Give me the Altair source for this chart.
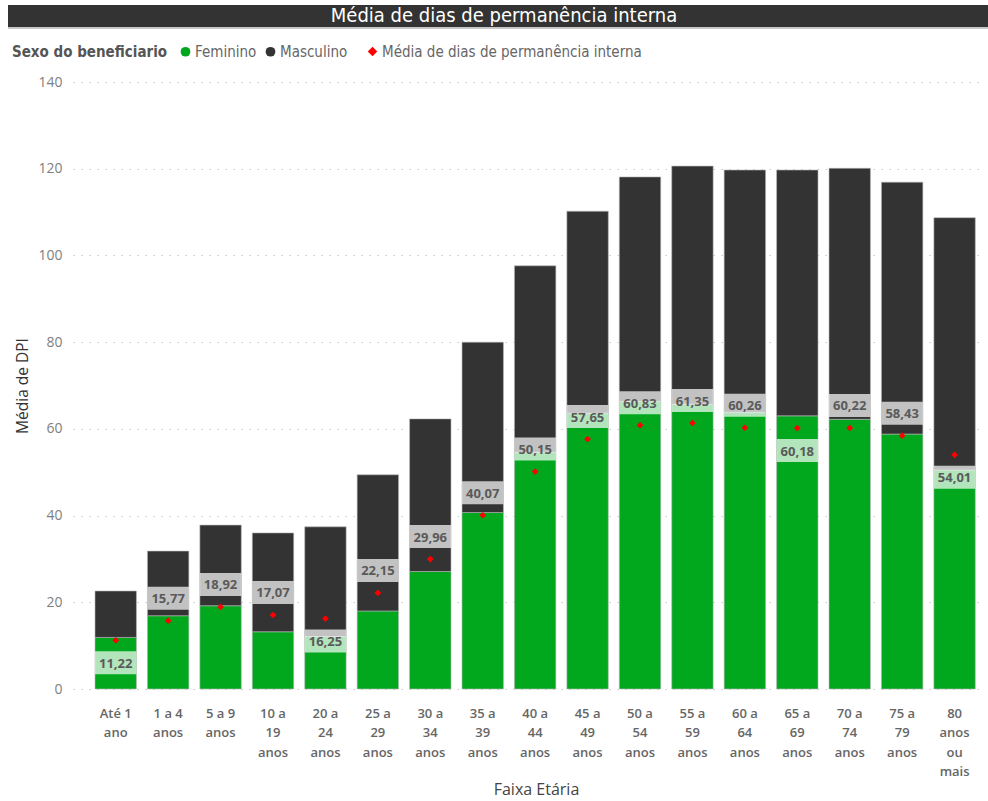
import altair as alt
import pandas as pd

# ---------------- data ----------------
faixas = ["Até 1|ano", "1 a 4|anos", "5 a 9|anos", "10 a|19|anos", "20 a|24|anos",
          "25 a|29|anos", "30 a|34|anos", "35 a|39|anos", "40 a|44|anos", "45 a|49|anos",
          "50 a|54|anos", "55 a|59|anos", "60 a|64|anos", "65 a|69|anos", "70 a|74|anos",
          "75 a|79|anos", "80|anos|ou|mais"]
feminino = [11.9, 16.9, 19.2, 13.2, 12.1, 18.0, 27.1, 40.7, 54.6, 63.6,
            66.3, 65.7, 63.8, 63.0, 62.2, 58.8, 50.5]
masculino = [10.7, 14.9, 18.6, 22.8, 25.3, 31.4, 35.2, 39.3, 43.0, 46.6,
             51.8, 54.9, 55.9, 56.7, 57.9, 58.1, 58.2]
media = [11.22, 15.77, 18.92, 17.07, 16.25, 22.15, 29.96, 40.07, 50.15, 57.65,
         60.83, 61.35, 60.26, 60.18, 60.22, 58.43, 54.01]
posicao = ["abaixo", "acima", "acima", "acima", "abaixo", "acima", "acima", "acima",
           "acima", "acima", "acima", "acima", "acima", "abaixo", "acima", "acima", "abaixo"]
sexos = ["Feminino", "Masculino"]
titulo = "Média de dias de permanência interna"
serie_media = "Média de dias de permanência interna"

rows = []
for i, f in enumerate(faixas):
    rows.append({"faixa": f, "sexo": sexos[0], "valor": feminino[i], "ordem": 0})
    rows.append({"faixa": f, "sexo": sexos[1], "valor": masculino[i], "ordem": 1})
df_bars = pd.DataFrame(rows)
df_media = pd.DataFrame({"faixa": faixas, "media": media, "pos": posicao,
                         "serie": [serie_media] * len(faixas)})
df_title = pd.DataFrame({"t": [titulo]})

# ---------------- styling ----------------
W, H = 912, 607
PI, PO, AL = 0.21, 0.3025, 0.694
STEP = W / (len(faixas) - PI + 2 * PO)
BARW = STEP * (1 - PI)
FONT = "Segoe UI, Open Sans, Noto Sans, sans-serif"
FONT_C = "DIN, Liberation Sans Narrow, DejaVu Sans Condensed, Roboto Condensed, Noto Sans, sans-serif"
GREEN = "#01A81E"
DARK = "#333333"
RED = "#FF0000"
OFF = 22.5

x_enc = alt.X(
    "faixa:N", sort=faixas,
    scale=alt.Scale(paddingInner=PI, paddingOuter=PO, align=AL),
    axis=alt.Axis(
        title="Faixa Etária", labelAngle=0, labelExpr="split(datum.label, '|')",
        domain=False, ticks=False, grid=False,
        labelFont=FONT, labelFontSize=13, labelFontWeight=600, labelColor="#666666",
        labelPadding=18, labelLineHeight=19.5, labelBaseline="top",
        titleFont=FONT, titleFontSize=16, titleFontWeight="normal", titleColor="#444444",
        titleX=463, titleY=105, titleBaseline="alphabetic", titleAlign="center",
    ),
)
y_scale = alt.Scale(domain=[0, 140], nice=False)
y_axis = alt.Axis(
    values=[0, 20, 40, 60, 80, 100, 120, 140], grid=True, gridDash=[1.5, 6.5],
    gridColor="#c8c8c8", gridWidth=1, domain=False, ticks=False,
    labelFont=FONT, labelFontSize=14, labelColor="#808080", labelPadding=11,
    title="Média de DPI", titleFont=FONT, titleFontSize=15.5, titleFontWeight="normal",
    titleColor="#333333", titleAngle=270, titleX=-46, titleY=H / 2,
    titleBaseline="alphabetic", titleAlign="center",
)

bars = alt.Chart(df_bars).mark_bar(stroke="#b5b5b5", strokeWidth=0.6).encode(
    x=x_enc,
    y=alt.Y("valor:Q", stack="zero", scale=y_scale, axis=y_axis),
    color=alt.Color(
        "sexo:N",
        scale=alt.Scale(domain=sexos, range=[GREEN, DARK]),
        legend=alt.Legend(
            title="Sexo do beneficiario", orient="none", legendX=-61, legendY=-38,
            direction="horizontal", titleOrient="left", symbolType="circle",
            symbolSize=95, symbolStrokeWidth=0, labelFont=FONT_C, labelFontSize=15,
            labelColor="#666666", titleFont=FONT_C, titleFontSize=15,
            titleFontWeight="bold", titleColor="#555555", columnPadding=6,
            titlePadding=10, labelOffset=2, labelLimit=0,
        ),
    ),
    order=alt.Order("ordem:Q", sort="ascending"),
)


def label_layer(pos, off):
    base = alt.Chart(df_media).transform_filter(alt.datum.pos == pos).transform_calculate(
        rot="replace(format(datum.media, '.2f'), '.', ',')")
    box = base.mark_tick(color="white", opacity=0.7, size=BARW, thickness=23,
                         yOffset=off).encode(x=x_enc, y=alt.Y("media:Q", scale=y_scale))
    txt = base.mark_text(font=FONT, fontSize=13, fontWeight="bold", color="#5a5a5a",
                         baseline="middle", yOffset=off + 1).encode(
        x=x_enc, y=alt.Y("media:Q", scale=y_scale), text="rot:N")
    return box + txt


points = alt.Chart(df_media).mark_point(filled=True, color=RED, size=45, opacity=1).encode(
    x=x_enc,
    y=alt.Y("media:Q", scale=y_scale),
    shape=alt.Shape(
        "serie:N",
        scale=alt.Scale(domain=[serie_media], range=["diamond"]),
        legend=alt.Legend(
            title=None, orient="none", legendX=292, legendY=-38,
            symbolSize=90, symbolFillColor=RED, symbolStrokeColor=RED,
            symbolStrokeWidth=0, labelFont=FONT_C, labelFontSize=15,
            labelColor="#666666", labelOffset=2, labelLimit=0,
        ),
    ),
)

banner = alt.Chart(df_title).mark_rect(color="#333333").encode(
    x=alt.value(-65), x2=alt.value(915), y=alt.value(-77), y2=alt.value(-55))
underline = alt.Chart(df_title).mark_rule(color="#c8c8c8", strokeWidth=2).encode(
    x=alt.value(-65), x2=alt.value(915), y=alt.value(-54))
title_txt = alt.Chart(df_title).mark_text(
    font=FONT_C, fontSize=20, color="white", baseline="middle", align="center").encode(
    text="t:N", x=alt.value(431), y=alt.value(-66))

chart = alt.layer(
    bars, label_layer("acima", -OFF), label_layer("abaixo", OFF), points,
    banner, underline, title_txt,
).properties(
    width=W, height=H,
    background="white",
    autosize=alt.AutoSizeParams(type="none"),
    padding={"left": 73, "top": 82, "right": 3, "bottom": 112},
).configure_view(stroke=None)

chart.save("out.html", embed_options={"renderer": "svg", "actions": False})
